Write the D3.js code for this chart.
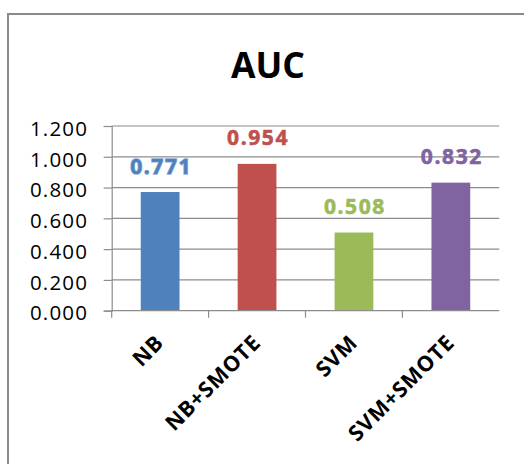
<!DOCTYPE html>
<html>
<head>
<meta charset="utf-8">
<script src="https://cdn.jsdelivr.net/npm/d3@7/dist/d3.min.js"></script>
<style>
  html, body { margin: 0; padding: 0; background: #fff; }
  svg { display: block; }
</style>
</head>
<body>
<script>
// AUC per classifier, with and without SMOTE oversampling
const categories = ["NB", "NB+SMOTE", "SVM", "SVM+SMOTE"];
const aucValues = [0.771, 0.954, 0.508, 0.832];
const barColors = ["#4F81BD", "#C0504D", "#9BBB59", "#8064A2"];
const yTicks = [0, 0.2, 0.4, 0.6, 0.8, 1.0, 1.2];
const chartTitle = "AUC";

const W = 524, H = 464;
const plot = { left: 111.7, right: 499.3, top: 126, bottom: 310.7 };

const svg = d3.select("body").append("svg")
  .attr("width", W).attr("height", H);

// chart frame
svg.append("rect")
  .attr("x", 8).attr("y", 14)
  .attr("width", W).attr("height", H)
  .attr("fill", "#fff")
  .attr("stroke", "#8a8a8a").attr("stroke-width", 2);

svg.append("text")
  .attr("x", 268).attr("y", 78.3)
  .attr("text-anchor", "middle")
  .attr("font-family", "'Open Sans', sans-serif")
  .attr("font-weight", 700)
  .attr("font-size", 35.5)
  .attr("fill", "#000")
  .text(chartTitle);

const x = d3.scaleBand()
  .domain(categories)
  .range([plot.left, plot.right])
  .paddingInner(0.6)
  .paddingOuter(0.3);

const y = d3.scaleLinear()
  .domain([0, 1.2])
  .range([plot.bottom, plot.top]);

const step = x.step();
const bw = x.bandwidth();

// horizontal gridlines
svg.append("g")
  .selectAll("line")
  .data(yTicks.filter(d => d > 0))
  .join("line")
  .attr("x1", plot.left).attr("x2", plot.right)
  .attr("y1", d => y(d)).attr("y2", d => y(d))
  .attr("stroke", "#8c8c8c").attr("stroke-width", 1.2);

// y axis
const yAxis = svg.append("g")
  .attr("transform", `translate(${plot.left},0)`)
  .call(d3.axisLeft(y).tickValues(yTicks).tickFormat(d3.format(".3f")).tickSize(8).tickPadding(15.5));
yAxis.select(".domain").attr("stroke", "#8c8c8c").attr("stroke-width", 1.2);
yAxis.selectAll(".tick line").attr("stroke", "#8c8c8c").attr("stroke-width", 1.2);
yAxis.selectAll(".tick text")
  .attr("font-family", "'Open Sans', sans-serif")
  .attr("font-size", 20.5)
  .attr("letter-spacing", 1.2)
  .attr("fill", "#000")
  .attr("dy", "0.45em");

// bars
svg.append("g")
  .selectAll("rect")
  .data(categories)
  .join("rect")
  .attr("x", d => x(d))
  .attr("width", bw)
  .attr("y", (d, i) => y(aucValues[i]))
  .attr("height", (d, i) => y(0) - y(aucValues[i]))
  .attr("fill", (d, i) => barColors[i]);

// x axis: baseline with ticks at the category boundaries
const bounds = categories.map(d => x(d) - step * 0.3);
const xAxis = svg.append("g");
xAxis.append("line")
  .attr("x1", plot.left).attr("x2", plot.right)
  .attr("y1", plot.bottom).attr("y2", plot.bottom)
  .attr("stroke", "#8c8c8c").attr("stroke-width", 1.2);
xAxis.selectAll("line.tk")
  .data(bounds)
  .join("line")
  .attr("class", "tk")
  .attr("x1", d => d).attr("x2", d => d)
  .attr("y1", plot.bottom).attr("y2", plot.bottom + 7)
  .attr("stroke", "#8c8c8c").attr("stroke-width", 1.2);

xAxis.selectAll("text")
  .data(categories)
  .join("text")
  .attr("transform", d => `translate(${x(d) + bw / 2 + 5},344) rotate(-45)`)
  .attr("text-anchor", "end")
  .attr("font-family", "'Open Sans', sans-serif")
  .attr("font-weight", 700)
  .attr("font-size", 21.5)
  .attr("letter-spacing", 0.8)
  .attr("fill", "#000")
  .text(d => d);

// value labels
svg.append("g")
  .selectAll("text")
  .data(categories)
  .join("text")
  .attr("x", d => x(d) + bw / 2 + 1)
  .attr("y", (d, i) => y(aucValues[i]) - 18.5)
  .attr("text-anchor", "middle")
  .attr("font-family", "'Open Sans', sans-serif")
  .attr("font-weight", 700)
  .attr("font-size", 21)
  .attr("letter-spacing", 1.6)
  .attr("fill", (d, i) => barColors[i])
  .attr("stroke", (d, i) => i === 0 ? "#8fb0dc" : barColors[i])
  .attr("stroke-width", (d, i) => i === 0 ? 1.4 : 0.6)
  .attr("paint-order", "stroke")
  .text((d, i) => d3.format(".3f")(aucValues[i]));
</script>
</body>
</html>
